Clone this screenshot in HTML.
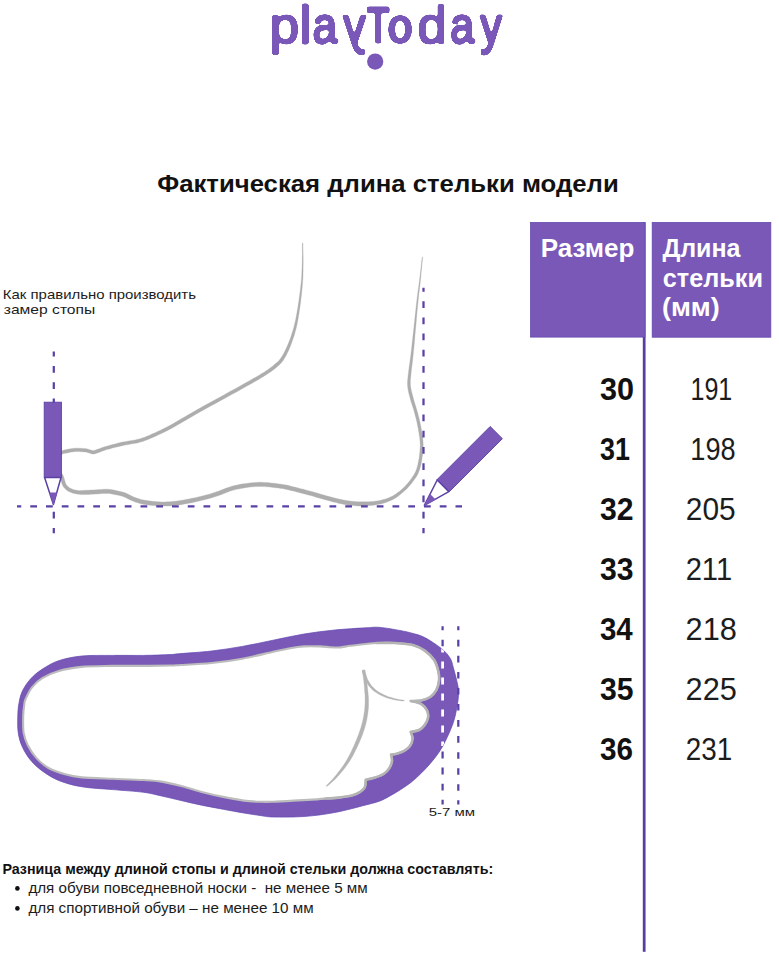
<!DOCTYPE html>
<html lang="ru"><head><meta charset="utf-8"><title>playToday — длина стельки</title>
<style>
html,body{margin:0;padding:0;background:#fff}
body{position:relative;width:779px;height:962px;overflow:hidden;font-family:"Liberation Sans",sans-serif}
svg{display:block}
text{font-family:"Liberation Sans",sans-serif;fill:#111}
.r{fill:#1c1c1c}
.b{font-weight:700}
.r{font-weight:400}
.w{fill:#fff;font-weight:700}
.logo{position:absolute;left:0;top:-1.3px;width:779px;height:76px;white-space:nowrap;font:400 52px/52px "Liberation Sans",sans-serif;color:#7a58b8;filter:url(#goo)}
.logo span{display:inline-block;width:0;transform-origin:0 0}
.dash{stroke:#5a41a6;stroke-width:2.25;fill:none}
</style></head><body>
<svg width="779" height="962" viewBox="0 0 779 962">
<rect width="779" height="962" fill="#fff"/>
<defs><filter id="goo" x="0" y="0" width="100%" height="100%" color-interpolation-filters="sRGB"><feGaussianBlur in="SourceGraphic" stdDeviation="1.3" result="b"/><feColorMatrix in="b" mode="matrix" values="1 0 0 0 0  0 1 0 0 0  0 0 1 0 0  0 0 0 9 -4"/></filter></defs>

<!-- logo dot -->
<circle cx="375.2" cy="61.6" r="8.1" fill="#7a58b8"/>

<!-- title -->
<text class="b" x="157.20" y="192.4" font-size="23" textLength="461.55" lengthAdjust="spacingAndGlyphs">Фактическая длина стельки модели</text>

<!-- foot side view -->
<text class="r" x="2.83" y="298.9" font-size="13.5" textLength="193.11" lengthAdjust="spacingAndGlyphs">Как правильно производить</text>
<text class="r" x="3.76" y="314.4" font-size="13.5" textLength="91.52" lengthAdjust="spacingAndGlyphs">замер стопы</text>
<path d="M302.5 243.0L302.4 244.5L302.4 246.4L302.4 248.7L302.4 251.3L302.4 254.0L302.3 256.8L302.3 259.5L302.2 262.0L302.2 264.3L302.1 266.6L302.0 268.9L301.9 271.2L301.8 273.5L301.7 275.9L301.5 278.4L301.3 280.9L301.0 283.6L300.7 286.5L300.4 289.3L300.0 292.3L299.6 295.3L299.2 298.3L298.8 301.2L298.3 304.2L297.9 307.1L297.4 310.0L296.9 313.0L296.3 316.0L295.8 318.9L295.2 321.7L294.5 324.5L293.9 327.1L293.2 329.6L292.4 332.1L291.6 334.6L290.8 336.9L290.0 339.2L289.1 341.4L288.3 343.4L287.5 345.4L286.8 347.1L286.0 348.8L285.3 350.3L284.6 351.7L283.9 353.1L283.2 354.3L282.5 355.5L281.7 356.7L281.1 357.7L280.5 358.6L279.9 359.3L279.4 360.0L278.8 360.7L278.1 361.4L277.2 362.2L276.2 363.1L275.0 364.1L273.8 365.1L272.5 366.2L271.1 367.3L269.5 368.4L267.8 369.7L265.9 371.0L263.7 372.4L261.3 373.8L258.8 375.4L256.1 377.0L253.2 378.6L250.0 380.4L246.7 382.3L243.1 384.3L239.2 386.5L234.8 388.9L229.9 391.6L224.7 394.5L219.3 397.5L213.8 400.4L208.6 403.3L203.6 406.0L199.2 408.5L195.2 410.8L191.4 413.0L187.8 415.0L184.5 417.0L181.3 418.8L178.4 420.6L175.7 422.1L173.3 423.5L171.1 424.7L169.3 425.7L167.8 426.5L166.5 427.2L165.2 427.8L164.0 428.5L162.6 429.1L161.1 429.9L159.3 430.7L157.5 431.6L155.7 432.4L153.8 433.3L151.9 434.1L150.1 434.9L148.4 435.7L146.8 436.3L145.3 436.9L144.0 437.4L142.9 437.8L141.7 438.2L140.6 438.5L139.4 438.9L138.1 439.2L136.7 439.5L135.2 439.9L133.6 440.2L131.8 440.5L130.1 440.8L128.2 441.1L126.3 441.4L124.4 441.7L122.4 442.1L120.4 442.6L118.2 443.1L116.0 443.7L113.7 444.3L111.5 444.8L109.4 445.4L107.5 445.9L105.8 446.4L104.4 446.8L103.2 447.2L102.2 447.5L101.3 447.9L100.6 448.2L99.9 448.5L99.2 448.7L98.4 449.0L97.6 449.3L96.9 449.6L96.2 449.8L95.5 450.1L94.9 450.3L94.4 450.4L93.9 450.6L93.4 450.6L93.0 450.6L92.6 450.5L92.1 450.4L91.6 450.3L91.1 450.1L90.6 449.9L90.0 449.7L89.5 449.6L89.1 449.5L88.9 449.4L88.7 449.3L88.3 449.2L87.9 449.0L87.4 448.9L86.8 448.8L86.0 448.7L85.0 448.6L83.8 448.5L82.5 448.4L81.1 448.3L79.6 448.2L78.2 448.2L76.7 448.2L75.4 448.2L74.2 448.3L73.0 448.4L71.8 448.6L70.7 448.7L69.6 448.9L68.6 449.1L67.6 449.3L66.7 449.5L65.8 449.7L65.0 449.8L64.3 450.0L63.5 450.2L62.7 450.4L61.9 450.6L61.1 451.0L60.3 451.4L59.5 451.9L58.8 452.5L58.0 453.1L57.2 453.8L56.4 454.6L55.7 455.4L55.0 456.3L54.5 457.2L54.0 458.3L53.6 459.4L53.3 460.5L53.1 461.7L52.9 462.9L52.8 464.0L52.8 465.1L52.8 466.1L52.9 467.1L53.2 468.0L53.5 468.8L53.9 469.6L54.4 470.2L54.8 470.9L55.2 471.4L55.7 472.0L56.2 472.7L56.8 473.3L57.4 473.8L58.0 474.3L58.5 474.7L58.9 475.2L59.3 475.7L59.7 476.3L60.0 477.1L60.3 478.1L60.7 479.3L61.0 480.5L61.4 481.8L61.7 483.0L62.1 484.2L62.6 485.3L63.0 486.1L63.5 486.9L64.0 487.6L64.5 488.1L64.9 488.6L65.4 489.1L65.9 489.5L66.3 489.9L66.9 490.3L67.4 490.7L68.0 491.0L68.5 491.4L69.1 491.6L69.6 491.9L70.2 492.1L70.7 492.4L71.3 492.6L71.9 492.8L72.5 493.0L73.1 493.2L73.7 493.4L74.4 493.5L75.0 493.6L75.7 493.8L76.3 493.9L76.8 494.0L77.4 494.1L78.0 494.2L78.8 494.2L79.6 494.3L80.5 494.6L81.7 494.6L83.1 494.6L84.8 494.5L86.6 494.5L88.6 494.4L90.6 494.3L92.5 494.2L94.4 494.1L96.1 494.0L97.7 493.9L99.3 493.8L100.8 493.7L102.2 493.6L103.5 493.5L104.8 493.4L106.1 493.4L107.3 493.4L108.5 493.5L109.6 493.6L110.7 493.8L111.8 493.9L112.9 494.2L114.0 494.4L115.1 494.6L116.2 494.9L117.2 495.1L118.3 495.3L119.3 495.5L120.3 495.7L121.2 496.0L122.2 496.2L123.1 496.5L124.1 496.9L125.0 497.2L125.9 497.7L126.8 498.2L127.8 498.7L128.8 499.2L129.9 499.8L131.0 500.3L132.2 500.8L133.4 501.3L134.6 501.8L135.8 502.2L137.1 502.6L138.4 503.1L139.8 503.5L141.3 503.8L142.9 504.2L144.6 504.5L146.4 504.7L148.2 505.0L150.1 505.2L152.1 505.4L154.0 505.6L155.8 505.8L157.6 505.9L159.2 506.0L160.9 506.1L162.4 506.1L164.0 506.1L165.5 506.1L167.0 506.0L168.6 506.0L170.1 505.9L171.7 505.8L173.2 505.7L174.7 505.5L176.2 505.3L177.7 505.1L179.2 504.9L180.9 504.7L182.6 504.4L184.5 504.0L186.5 503.7L188.6 503.3L190.7 502.9L192.8 502.5L195.0 502.0L197.1 501.5L199.2 501.0L201.2 500.6L203.2 500.1L205.2 499.6L207.2 499.1L209.2 498.5L211.3 497.9L213.4 497.3L215.6 496.6L218.0 495.8L220.4 494.9L222.8 494.0L225.3 493.0L227.8 492.0L230.3 491.1L232.9 490.3L235.5 489.6L238.2 489.0L241.0 488.5L243.9 488.0L246.9 487.5L249.8 487.1L252.8 486.8L255.7 486.6L258.6 486.5L261.4 486.5L264.3 486.6L267.3 486.8L270.3 487.1L273.2 487.4L275.9 487.8L278.5 488.1L280.7 488.4L282.6 488.6L284.2 488.9L285.5 489.2L286.7 489.4L287.9 489.7L289.1 490.0L290.4 490.4L291.9 490.7L293.6 491.1L295.3 491.6L297.1 492.0L298.9 492.4L300.7 492.9L302.6 493.4L304.5 493.9L306.5 494.4L308.4 495.0L310.5 495.5L312.6 496.1L314.7 496.7L316.8 497.4L318.8 497.9L320.8 498.5L322.6 499.0L324.3 499.5L325.9 499.9L327.3 500.3L328.7 500.7L330.1 501.1L331.5 501.5L333.0 501.9L334.5 502.2L336.0 502.6L337.6 503.0L339.2 503.4L340.8 503.7L342.4 504.1L344.1 504.4L345.8 504.7L347.6 505.0L349.5 505.2L351.4 505.4L353.3 505.6L355.3 505.8L357.3 505.9L359.3 506.0L361.3 506.0L363.3 506.0L365.3 505.9L367.3 505.8L369.3 505.6L371.4 505.4L373.4 505.2L375.3 504.9L377.2 504.6L379.0 504.3L380.8 503.9L382.5 503.5L384.2 503.0L385.8 502.5L387.3 501.9L388.8 501.3L390.3 500.7L391.7 500.1L393.0 499.4L394.3 498.7L395.5 498.0L396.7 497.2L397.8 496.4L398.9 495.6L400.0 494.7L401.1 493.8L402.3 492.8L403.5 491.8L404.7 490.7L406.0 489.5L407.2 488.4L408.4 487.1L409.5 485.8L410.7 484.4L411.8 483.0L412.9 481.6L414.0 480.1L415.1 478.5L416.2 476.9L417.2 475.2L418.1 473.4L418.9 471.6L419.6 469.6L420.2 467.6L420.7 465.5L421.2 463.4L421.6 461.3L421.9 459.2L422.2 457.1L422.5 455.2L422.7 453.3L422.9 451.5L423.0 449.8L423.1 448.1L423.2 446.3L423.2 444.6L423.1 442.8L423.0 440.9L422.8 438.9L422.6 436.9L422.3 434.8L421.9 432.7L421.6 430.6L421.2 428.5L420.8 426.6L420.5 424.7L420.1 423.0L419.8 421.4L419.4 419.9L419.1 418.4L418.7 416.9L418.3 415.4L417.9 413.8L417.4 412.1L416.9 410.2L416.3 408.2L415.7 406.2L415.0 404.1L414.4 402.0L413.8 400.0L413.3 398.1L412.8 396.3L412.4 394.7L412.0 393.2L411.6 391.7L411.3 390.4L411.0 389.1L410.8 387.8L410.6 386.5L410.5 385.1L410.4 383.8L410.4 382.6L410.4 381.4L410.4 380.2L410.5 378.9L410.7 377.5L410.9 375.7L411.0 373.7L411.3 371.6L411.5 369.3L411.8 367.0L412.1 364.4L412.5 361.5L412.8 358.3L413.2 354.7L413.6 350.6L414.1 345.8L414.6 340.2L415.1 334.0L415.7 327.6L416.3 321.1L416.8 314.9L417.3 309.3L417.8 304.4L418.2 300.3L418.6 296.7L418.9 293.6L419.3 290.8L419.6 288.1L419.9 285.5L420.2 282.9L420.5 280.1L420.8 277.0L421.1 273.7L421.4 270.3L421.7 267.0L422.0 263.9L422.3 261.1L422.5 258.8L422.6 257.0L422.2 257.0L422.0 258.7L421.7 261.1L421.4 263.9L421.0 266.9L420.7 270.2L420.3 273.6L419.9 276.9L419.5 279.9L419.2 282.8L418.8 285.4L418.5 288.0L418.1 290.6L417.7 293.5L417.3 296.6L416.9 300.1L416.4 304.2L415.9 309.1L415.2 314.8L414.6 321.0L413.9 327.4L413.2 333.8L412.5 340.0L411.9 345.6L411.4 350.4L410.9 354.4L410.4 358.0L410.0 361.2L409.6 364.0L409.2 366.6L408.9 369.0L408.6 371.3L408.4 373.5L408.1 375.5L407.9 377.2L407.8 378.7L407.6 380.0L407.5 381.3L407.5 382.6L407.5 383.9L407.5 385.3L407.7 386.8L407.8 388.2L408.1 389.6L408.3 391.0L408.6 392.4L409.0 393.9L409.4 395.4L409.8 397.1L410.3 398.9L410.9 400.9L411.5 402.9L412.2 405.0L412.8 407.1L413.5 409.1L414.0 411.1L414.6 412.9L415.0 414.6L415.4 416.2L415.8 417.6L416.2 419.1L416.5 420.5L416.9 422.0L417.2 423.6L417.5 425.3L417.9 427.1L418.3 429.1L418.6 431.1L419.0 433.2L419.3 435.2L419.6 437.3L419.8 439.2L420.0 441.1L420.1 442.9L420.2 444.6L420.2 446.3L420.1 447.9L420.0 449.6L419.9 451.3L419.7 453.0L419.5 454.8L419.3 456.7L419.0 458.7L418.6 460.8L418.2 462.8L417.8 464.8L417.3 466.8L416.7 468.7L416.1 470.4L415.4 472.1L414.5 473.7L413.6 475.3L412.6 476.8L411.6 478.3L410.5 479.8L409.4 481.2L408.3 482.6L407.3 483.8L406.2 485.1L405.0 486.2L403.9 487.4L402.7 488.5L401.6 489.5L400.4 490.5L399.3 491.4L398.1 492.3L397.0 493.1L396.0 493.9L394.9 494.6L393.8 495.3L392.7 495.9L391.6 496.5L390.3 497.1L389.0 497.7L387.6 498.2L386.2 498.7L384.7 499.2L383.2 499.6L381.6 500.0L380.0 500.4L378.4 500.7L376.6 501.0L374.8 501.2L372.9 501.4L371.0 501.6L369.1 501.7L367.1 501.8L365.2 501.8L363.3 501.8L361.4 501.8L359.5 501.8L357.5 501.7L355.6 501.6L353.7 501.4L351.8 501.2L349.9 501.0L348.2 500.8L346.5 500.6L344.9 500.3L343.3 500.0L341.7 499.6L340.1 499.3L338.6 498.9L337.0 498.5L335.5 498.2L334.0 497.8L332.6 497.4L331.2 497.1L329.9 496.7L328.5 496.3L327.0 495.9L325.4 495.4L323.8 495.0L321.9 494.5L320.0 493.9L318.0 493.3L315.9 492.7L313.7 492.1L311.6 491.5L309.5 490.9L307.5 490.4L305.6 489.9L303.7 489.3L301.8 488.9L299.9 488.4L298.1 487.9L296.3 487.5L294.6 487.1L292.9 486.7L291.4 486.3L290.1 486.0L288.9 485.6L287.7 485.3L286.4 485.1L284.9 484.8L283.2 484.5L281.3 484.2L279.0 483.9L276.4 483.6L273.7 483.2L270.7 482.9L267.7 482.6L264.6 482.4L261.5 482.3L258.4 482.3L255.5 482.4L252.4 482.7L249.4 483.0L246.3 483.4L243.3 483.8L240.3 484.3L237.3 484.9L234.5 485.6L231.7 486.3L229.0 487.2L226.4 488.1L223.8 489.1L221.3 490.0L218.9 491.0L216.6 491.8L214.4 492.6L212.2 493.3L210.1 493.9L208.1 494.5L206.1 495.0L204.1 495.5L202.2 496.0L200.2 496.5L198.2 497.0L196.2 497.4L194.1 497.9L191.9 498.3L189.8 498.8L187.8 499.2L185.7 499.6L183.8 499.9L182.0 500.2L180.2 500.5L178.6 500.8L177.1 501.0L175.6 501.2L174.2 501.3L172.8 501.5L171.3 501.6L169.9 501.7L168.4 501.8L166.9 501.8L165.4 501.9L164.0 501.9L162.5 501.9L161.0 501.9L159.4 501.8L157.8 501.7L156.1 501.6L154.3 501.4L152.5 501.3L150.6 501.1L148.8 500.8L147.0 500.6L145.3 500.3L143.7 500.0L142.3 499.7L140.9 499.4L139.6 499.0L138.4 498.6L137.2 498.2L136.1 497.8L134.9 497.4L133.8 497.0L132.7 496.5L131.7 496.0L130.8 495.5L129.8 495.0L128.8 494.4L127.7 493.9L126.7 493.4L125.5 492.9L124.4 492.5L123.4 492.2L122.3 491.9L121.3 491.7L120.2 491.4L119.2 491.2L118.1 491.0L117.0 490.7L116.0 490.5L114.9 490.3L113.7 490.0L112.6 489.8L111.4 489.6L110.1 489.4L108.8 489.3L107.5 489.2L106.1 489.2L104.7 489.2L103.3 489.3L101.9 489.4L100.4 489.5L98.9 489.6L97.4 489.7L95.9 489.8L94.2 489.9L92.3 490.0L90.4 490.1L88.4 490.2L86.5 490.3L84.7 490.3L83.0 490.4L81.7 490.4L80.6 490.4L79.7 490.7L79.0 490.6L78.4 490.6L77.9 490.5L77.5 490.4L76.9 490.3L76.3 490.2L75.7 490.1L75.2 490.0L74.6 489.9L74.1 489.7L73.6 489.6L73.1 489.4L72.6 489.2L72.1 489.0L71.6 488.8L71.1 488.6L70.7 488.4L70.2 488.2L69.8 488.0L69.4 487.7L69.0 487.4L68.7 487.1L68.2 486.8L67.8 486.4L67.5 486.1L67.1 485.7L66.8 485.3L66.5 484.9L66.2 484.4L65.8 483.7L65.5 483.0L65.2 482.0L64.8 480.8L64.5 479.5L64.1 478.3L63.7 477.0L63.3 475.8L62.7 474.7L62.1 473.7L61.5 472.9L60.8 472.3L60.2 471.7L59.6 471.2L59.1 470.8L58.7 470.4L58.3 470.0L58.0 469.4L57.5 468.9L57.2 468.3L56.9 467.9L56.6 467.4L56.4 466.9L56.3 466.4L56.2 465.9L56.2 465.1L56.2 464.3L56.3 463.3L56.4 462.3L56.6 461.3L56.9 460.4L57.2 459.5L57.5 458.8L57.9 458.1L58.4 457.5L58.9 456.9L59.5 456.3L60.1 455.7L60.8 455.2L61.4 454.8L62.1 454.4L62.6 454.0L63.2 453.8L63.7 453.6L64.3 453.5L64.9 453.3L65.7 453.2L66.5 453.0L67.3 452.9L68.3 452.7L69.2 452.5L70.2 452.3L71.3 452.1L72.3 451.9L73.4 451.8L74.5 451.7L75.6 451.6L76.8 451.6L78.1 451.6L79.5 451.6L80.9 451.7L82.3 451.8L83.5 451.9L84.7 452.0L85.6 452.1L86.3 452.2L86.7 452.2L87.0 452.3L87.2 452.4L87.4 452.4L87.7 452.6L88.1 452.7L88.5 452.8L89.0 453.0L89.4 453.1L90.0 453.3L90.6 453.5L91.2 453.7L92.0 453.9L92.8 454.0L93.6 454.0L94.4 453.9L95.2 453.7L95.9 453.5L96.6 453.3L97.4 453.0L98.1 452.7L98.8 452.5L99.6 452.2L100.4 451.9L101.1 451.6L101.8 451.3L102.6 451.0L103.4 450.7L104.3 450.4L105.4 450.0L106.8 449.6L108.4 449.2L110.3 448.7L112.3 448.1L114.5 447.5L116.8 447.0L119.0 446.4L121.2 445.9L123.2 445.5L125.0 445.1L126.9 444.7L128.8 444.4L130.6 444.1L132.4 443.8L134.2 443.5L135.9 443.2L137.5 442.9L139.0 442.5L140.3 442.1L141.6 441.8L142.8 441.4L144.0 441.0L145.2 440.6L146.6 440.1L148.0 439.5L149.7 438.8L151.4 438.1L153.3 437.2L155.2 436.4L157.1 435.5L159.0 434.6L160.8 433.8L162.5 432.9L164.1 432.2L165.5 431.5L166.7 430.9L168.0 430.2L169.4 429.5L170.9 428.7L172.7 427.7L174.9 426.5L177.4 425.1L180.1 423.5L183.1 421.8L186.2 419.9L189.5 418.0L193.1 415.9L196.8 413.7L200.8 411.5L205.3 409.0L210.2 406.3L215.5 403.4L220.9 400.4L226.3 397.5L231.6 394.6L236.5 391.9L240.8 389.5L244.7 387.3L248.3 385.3L251.7 383.4L254.9 381.6L257.8 379.9L260.5 378.3L263.1 376.7L265.5 375.2L267.7 373.8L269.7 372.5L271.5 371.2L273.1 370.0L274.6 368.9L276.0 367.8L277.2 366.7L278.4 365.7L279.5 364.7L280.4 363.8L281.2 363.0L281.9 362.1L282.5 361.3L283.2 360.4L283.8 359.4L284.5 358.3L285.2 357.1L285.9 355.9L286.6 354.5L287.3 353.1L288.1 351.6L288.8 350.0L289.5 348.3L290.3 346.4L291.0 344.5L291.8 342.4L292.6 340.1L293.4 337.8L294.2 335.4L294.9 332.9L295.6 330.3L296.3 327.7L296.9 325.0L297.5 322.2L298.0 319.3L298.5 316.3L299.0 313.4L299.4 310.4L299.9 307.4L300.3 304.4L300.7 301.5L301.0 298.5L301.4 295.5L301.7 292.5L302.0 289.5L302.3 286.6L302.5 283.8L302.7 281.1L302.9 278.5L303.0 276.0L303.0 273.6L303.1 271.2L303.1 268.9L303.1 266.7L303.2 264.4L303.2 262.0L303.2 259.5L303.2 256.8L303.1 254.0L303.1 251.3L303.0 248.7L303.0 246.4L303.0 244.5L302.9 243.0Z" fill="#adadad" stroke="#adadad" stroke-width="0.3" stroke-linejoin="round"/>
<path class="dash" d="M53.8 351.4V533.2" stroke-dasharray="6.75 9.45" stroke-dashoffset="1.6"/>
<path class="dash" d="M423.5 287.7V533.2" stroke-dasharray="6.75 9.45" stroke-dashoffset="2.7"/>
<path class="dash" d="M17 506.4H462" stroke-dasharray="6.75 9" stroke-dashoffset="2.5"/>
<g id="pencil">
<rect x="44.2" y="402.2" width="17.2" height="75.3" fill="#7a58b8" stroke="#5a41a6" stroke-width="0.9"/>
<path d="M44.6 477.5L53.4 504.5L61 477.5Z" fill="#fff" stroke="#5a41a6" stroke-width="1.5" stroke-linejoin="round"/>
<path d="M49.5 492.4H57.2L53.4 505Z" fill="#7a58b8"/>
</g>
<g transform="translate(370.6 0.7) rotate(45 53.4 505)">
<rect x="44.2" y="402.2" width="17.2" height="75.3" fill="#7a58b8" stroke="#5a41a6" stroke-width="0.9"/>
<path d="M44.6 477.5L53.4 504.5L61 477.5Z" fill="#fff" stroke="#5a41a6" stroke-width="1.5" stroke-linejoin="round"/>
<path d="M49.5 492.4H57.2L53.4 505Z" fill="#7a58b8"/>
</g>

<!-- insole -->
<clipPath id="insoleclip"><path d="M17.8 716.0C17.9 711.1 18.2 707.1 19.0 703.0C19.8 698.9 20.4 695.3 22.3 691.3C24.2 687.3 27.1 682.8 30.5 679.0C33.9 675.2 38.1 671.9 42.9 668.8C47.7 665.7 52.8 662.6 59.3 660.5C65.8 658.4 73.0 656.9 81.9 656.0C90.8 655.1 102.4 655.5 112.7 655.4C123.0 655.3 133.9 655.5 143.5 655.4C153.1 655.3 163.8 654.9 170.0 654.6C176.2 654.3 173.9 654.2 180.8 653.6C187.7 653.0 201.3 652.2 211.6 651.0C221.9 649.8 232.1 648.2 242.4 646.4C252.7 644.6 262.9 642.3 273.2 640.2C283.5 638.1 293.7 635.7 304.0 634.0C314.3 632.3 324.5 631.0 334.8 630.0C345.1 629.0 358.2 628.2 365.7 627.8C373.2 627.4 374.3 626.9 380.0 627.4C385.7 627.9 394.7 629.5 400.0 630.5C405.3 631.5 407.9 632.0 412.0 633.2C416.1 634.4 419.8 634.9 424.7 637.5C429.6 640.1 437.4 645.3 441.6 648.7C445.8 652.1 448.0 654.8 450.0 658.0C452.0 661.2 452.1 663.0 453.4 667.8C454.7 672.5 457.2 681.8 458.0 686.5C458.8 691.2 458.6 692.5 458.4 696.0C458.2 699.5 457.8 702.6 456.9 707.3C456.0 712.0 455.2 717.4 452.8 724.0C450.4 730.6 445.9 740.6 442.4 746.8C438.9 753.0 435.5 757.1 432.0 761.4C428.5 765.7 425.1 769.3 421.6 772.8C418.1 776.3 414.7 779.4 411.2 782.2C407.7 785.0 404.3 787.1 400.8 789.4C397.3 791.6 393.9 793.8 390.4 795.7C386.9 797.6 384.1 799.4 380.0 800.9C375.9 802.4 373.2 803.1 365.7 805.0C358.2 806.9 345.1 810.6 334.8 812.5C324.5 814.4 314.3 815.8 304.0 816.5C293.7 817.2 280.5 817.2 273.2 817.0C265.9 816.8 264.9 816.2 260.0 815.5C255.1 814.8 249.9 814.0 243.8 813.0C237.7 812.0 230.0 810.6 223.2 809.3C216.3 808.0 209.5 806.8 202.7 805.4C195.9 804.0 189.0 802.4 182.2 800.8C175.3 799.2 168.0 797.4 161.6 796.0C155.2 794.6 151.7 793.4 143.5 792.3C135.3 791.2 123.0 790.5 112.7 789.6C102.4 788.7 90.8 788.3 81.9 786.8C73.0 785.3 65.8 783.3 59.3 780.7C52.8 778.1 47.7 774.8 42.9 771.4C38.1 768.0 33.9 764.2 30.5 760.1C27.1 756.0 24.4 751.4 22.3 746.8C20.2 742.2 18.9 737.5 18.2 732.4C17.4 727.3 17.7 720.9 17.8 716.0Z"/></clipPath>
<path d="M17.8 716.0C17.9 711.1 18.2 707.1 19.0 703.0C19.8 698.9 20.4 695.3 22.3 691.3C24.2 687.3 27.1 682.8 30.5 679.0C33.9 675.2 38.1 671.9 42.9 668.8C47.7 665.7 52.8 662.6 59.3 660.5C65.8 658.4 73.0 656.9 81.9 656.0C90.8 655.1 102.4 655.5 112.7 655.4C123.0 655.3 133.9 655.5 143.5 655.4C153.1 655.3 163.8 654.9 170.0 654.6C176.2 654.3 173.9 654.2 180.8 653.6C187.7 653.0 201.3 652.2 211.6 651.0C221.9 649.8 232.1 648.2 242.4 646.4C252.7 644.6 262.9 642.3 273.2 640.2C283.5 638.1 293.7 635.7 304.0 634.0C314.3 632.3 324.5 631.0 334.8 630.0C345.1 629.0 358.2 628.2 365.7 627.8C373.2 627.4 374.3 626.9 380.0 627.4C385.7 627.9 394.7 629.5 400.0 630.5C405.3 631.5 407.9 632.0 412.0 633.2C416.1 634.4 419.8 634.9 424.7 637.5C429.6 640.1 437.4 645.3 441.6 648.7C445.8 652.1 448.0 654.8 450.0 658.0C452.0 661.2 452.1 663.0 453.4 667.8C454.7 672.5 457.2 681.8 458.0 686.5C458.8 691.2 458.6 692.5 458.4 696.0C458.2 699.5 457.8 702.6 456.9 707.3C456.0 712.0 455.2 717.4 452.8 724.0C450.4 730.6 445.9 740.6 442.4 746.8C438.9 753.0 435.5 757.1 432.0 761.4C428.5 765.7 425.1 769.3 421.6 772.8C418.1 776.3 414.7 779.4 411.2 782.2C407.7 785.0 404.3 787.1 400.8 789.4C397.3 791.6 393.9 793.8 390.4 795.7C386.9 797.6 384.1 799.4 380.0 800.9C375.9 802.4 373.2 803.1 365.7 805.0C358.2 806.9 345.1 810.6 334.8 812.5C324.5 814.4 314.3 815.8 304.0 816.5C293.7 817.2 280.5 817.2 273.2 817.0C265.9 816.8 264.9 816.2 260.0 815.5C255.1 814.8 249.9 814.0 243.8 813.0C237.7 812.0 230.0 810.6 223.2 809.3C216.3 808.0 209.5 806.8 202.7 805.4C195.9 804.0 189.0 802.4 182.2 800.8C175.3 799.2 168.0 797.4 161.6 796.0C155.2 794.6 151.7 793.4 143.5 792.3C135.3 791.2 123.0 790.5 112.7 789.6C102.4 788.7 90.8 788.3 81.9 786.8C73.0 785.3 65.8 783.3 59.3 780.7C52.8 778.1 47.7 774.8 42.9 771.4C38.1 768.0 33.9 764.2 30.5 760.1C27.1 756.0 24.4 751.4 22.3 746.8C20.2 742.2 18.9 737.5 18.2 732.4C17.4 727.3 17.7 720.9 17.8 716.0Z" fill="#7958b8" stroke="#6246b0" stroke-width="0.7"/>
<path d="M325.6 798.5C323.3 798.7 316.6 799.3 312.0 799.6C307.4 799.9 304.4 800.0 297.9 800.4C291.4 800.8 279.5 801.6 273.2 801.8C266.9 802.0 264.9 802.0 260.0 801.8C255.1 801.6 249.9 801.4 243.8 800.6C237.7 799.8 230.0 798.3 223.2 796.9C216.3 795.5 209.5 794.0 202.7 792.2C195.9 790.4 189.0 788.1 182.2 786.3C175.3 784.5 168.0 782.6 161.6 781.6C155.2 780.6 151.7 780.5 143.5 780.0C135.3 779.5 123.0 779.2 112.7 778.8C102.4 778.4 89.7 778.1 81.8 777.4C73.9 776.6 70.8 775.9 65.2 774.3C59.7 772.7 53.4 770.8 48.5 768.0C43.6 765.2 39.5 761.4 36.0 757.6C32.5 753.8 29.8 749.2 27.7 745.0C25.6 740.8 24.4 737.4 23.6 732.6C22.9 727.8 23.1 720.6 23.2 716.0C23.3 711.4 23.8 707.8 24.2 705.0C24.6 702.2 24.3 701.9 25.6 699.0C26.9 696.1 29.0 691.1 31.8 687.6C34.6 684.1 37.7 681.0 42.2 678.2C46.7 675.4 52.2 672.9 58.8 671.0C65.4 669.1 72.7 667.8 81.7 666.9C90.7 666.0 102.4 666.1 112.7 665.9C123.0 665.7 133.9 666.0 143.5 665.9C153.1 665.8 163.8 665.6 170.0 665.5C176.2 665.4 173.9 665.4 180.8 665.0C187.7 664.6 201.3 664.0 211.6 663.0C221.9 662.0 232.1 660.6 242.4 658.7C252.7 656.8 265.3 653.5 273.2 651.8C281.1 650.0 284.9 649.1 290.0 648.2C295.1 647.3 299.0 646.7 304.0 646.4C309.0 646.1 315.7 646.3 320.0 646.4C324.3 646.5 326.9 647.0 330.0 647.2C333.1 647.4 336.2 647.6 338.7 647.5C341.2 647.4 343.1 646.9 345.0 646.6C346.9 646.3 348.1 646.1 350.2 645.8C352.3 645.5 353.1 645.5 357.4 645.0C361.7 644.5 369.9 643.3 376.1 643.0C382.3 642.7 388.6 642.6 394.8 643.0C401.0 643.4 408.5 643.9 413.5 645.2C418.5 646.5 421.3 648.2 424.7 650.6C428.1 653.0 431.8 656.5 434.1 659.9C436.4 663.3 437.5 667.8 438.3 671.2C439.1 674.6 439.3 677.4 439.0 680.5C438.7 683.6 437.9 687.1 436.4 689.9C434.9 692.6 432.8 695.2 430.2 697.0C427.6 698.8 424.2 699.8 421.0 700.5C417.8 701.2 412.4 700.9 410.7 701.0C412.4 701.5 418.3 702.3 421.0 703.9C423.7 705.5 425.8 708.1 427.0 710.4C428.2 712.7 428.4 715.4 428.0 717.9C427.6 720.4 425.9 723.4 424.4 725.4C422.9 727.4 421.4 728.9 419.1 730.0C416.8 731.1 412.1 731.6 410.7 731.9C411.0 733.0 412.7 736.1 412.6 738.5C412.5 740.9 411.4 743.9 410.0 746.0C408.6 748.1 406.4 749.6 404.2 750.9C402.0 752.2 398.9 753.1 396.7 753.7C394.5 754.3 392.0 754.5 391.1 754.6C391.2 755.7 392.3 758.7 392.0 761.0C391.7 763.3 390.6 766.2 389.2 768.4C387.8 770.6 386.1 772.4 383.6 774.0C381.1 775.6 377.2 776.8 374.2 777.8C371.2 778.8 367.2 779.5 365.8 779.8C365.6 781.0 365.8 785.1 364.9 787.1C364.0 789.1 362.4 790.4 360.2 791.8C358.0 793.2 355.4 794.5 351.8 795.5C348.2 796.5 343.1 797.1 338.7 797.6C334.3 798.1 327.8 798.4 325.6 798.5Z" fill="#fff" stroke="#bcbcbc" stroke-width="2.1" stroke-linejoin="round"/>
<path d="M376.1 643.0C379.2 643.0 388.6 642.6 394.8 643.0C401.0 643.4 408.5 643.9 413.5 645.2C418.5 646.5 421.3 648.2 424.7 650.6C428.1 653.0 431.8 656.5 434.1 659.9C436.4 663.3 437.5 667.8 438.3 671.2C439.1 674.6 439.3 677.4 439.0 680.5C438.7 683.6 437.9 687.1 436.4 689.9C434.9 692.6 432.8 695.2 430.2 697.0C427.6 698.8 424.2 699.8 421.0 700.5C417.8 701.2 412.4 700.9 410.7 701.0C412.4 701.5 418.3 702.3 421.0 703.9C423.7 705.5 425.8 708.1 427.0 710.4C428.2 712.7 428.4 715.4 428.0 717.9C427.6 720.4 425.9 723.4 424.4 725.4C422.9 727.4 421.4 728.9 419.1 730.0C416.8 731.1 412.1 731.6 410.7 731.9C411.0 733.0 412.7 736.1 412.6 738.5C412.5 740.9 411.4 743.9 410.0 746.0C408.6 748.1 406.4 749.6 404.2 750.9C402.0 752.2 398.9 753.1 396.7 753.7C394.5 754.3 392.0 754.5 391.1 754.6C391.2 755.7 392.3 758.7 392.0 761.0C391.7 763.3 390.6 766.2 389.2 768.4C387.8 770.6 386.1 772.4 383.6 774.0C381.1 775.6 377.2 776.8 374.2 777.8C371.2 778.8 367.2 779.5 365.8 779.8C365.6 781.0 365.8 785.1 364.9 787.1C364.0 789.1 362.4 790.4 360.2 791.8C358.0 793.2 355.4 794.5 351.8 795.5C348.2 796.5 343.1 797.1 338.7 797.6C334.3 798.1 327.8 798.4 325.6 798.5" fill="none" stroke="#b4b4b4" stroke-width="2.6" stroke-linejoin="round" stroke-linecap="round"/>
<path d="M362.4 670.4L362.5 671.6L362.7 673.2L363.0 675.1L363.3 677.2L363.6 679.4L363.8 681.8L364.1 684.0L364.3 686.3L364.5 688.5L364.6 690.7L364.8 693.0L365.0 695.4L365.1 697.7L365.1 700.1L365.1 702.4L365.0 704.7L364.8 707.0L364.6 709.3L364.4 711.6L364.0 713.9L363.6 716.2L363.2 718.5L362.7 720.7L362.2 723.0L361.5 725.3L360.9 727.6L360.1 729.9L359.3 732.2L358.5 734.5L357.6 736.8L356.7 739.2L355.7 741.5L354.7 743.8L353.7 746.2L352.6 748.6L351.5 751.0L350.3 753.4L349.1 755.7L347.9 757.9L346.7 760.1L345.4 762.2L344.1 764.2L342.8 766.2L341.4 768.1L340.0 770.0L338.6 771.8L337.3 773.5L336.0 775.2L334.6 776.8L333.2 778.4L331.8 779.9L330.4 781.4L329.1 782.8L327.9 784.0L326.9 785.0L326.2 785.9L326.8 786.5L327.7 785.8L328.8 784.9L330.1 783.8L331.5 782.6L333.0 781.2L334.6 779.7L336.2 778.2L337.6 776.6L339.1 775.0L340.5 773.3L342.0 771.6L343.5 769.7L345.0 767.8L346.5 765.8L347.9 763.8L349.3 761.7L350.7 759.5L352.0 757.3L353.3 754.9L354.5 752.5L355.7 750.1L356.9 747.7L358.0 745.3L359.1 742.9L360.1 740.6L361.1 738.2L362.0 735.9L362.9 733.5L363.7 731.1L364.5 728.7L365.2 726.4L365.8 724.0L366.4 721.6L366.9 719.2L367.3 716.8L367.7 714.4L368.0 712.0L368.3 709.7L368.5 707.3L368.6 704.9L368.6 702.5L368.6 700.0L368.5 697.6L368.3 695.2L368.1 692.8L367.8 690.4L367.6 688.2L367.3 685.9L367.0 683.7L366.6 681.4L366.2 679.0L365.8 676.8L365.4 674.7L365.0 672.8L364.7 671.2L364.4 670.0Z" fill="#b4b4b4" stroke="#b4b4b4" stroke-width="0.3" stroke-linejoin="round"/>
<path d="M362.0 670.6L362.2 671.4L362.5 672.4L362.9 673.7L363.3 675.1L363.8 676.7L364.3 678.2L365.0 679.7L365.7 681.1L366.4 682.4L367.2 683.6L368.1 684.9L369.1 686.2L370.1 687.4L371.2 688.5L372.3 689.7L373.5 690.7L374.8 691.7L376.2 692.6L377.6 693.5L379.2 694.4L380.7 695.2L382.2 695.9L383.7 696.6L385.2 697.2L386.6 697.7L388.1 698.2L389.7 698.7L391.2 699.0L392.6 699.4L394.0 699.7L395.3 700.0L396.6 700.2L397.8 700.4L398.9 700.6L400.0 700.7L401.1 700.9L402.0 700.9L402.9 701.0L403.6 701.1L404.1 701.1L404.3 700.3L403.7 700.2L403.0 700.1L402.2 700.0L401.2 699.8L400.2 699.7L399.1 699.5L398.0 699.3L396.8 699.0L395.6 698.7L394.3 698.4L392.9 698.0L391.5 697.6L390.1 697.2L388.6 696.7L387.2 696.2L385.8 695.6L384.4 695.0L383.0 694.3L381.5 693.5L380.1 692.7L378.7 691.9L377.3 691.0L376.0 690.0L374.9 689.1L373.8 688.1L372.8 687.0L371.8 685.9L370.9 684.7L370.1 683.5L369.3 682.3L368.6 681.1L367.9 679.9L367.4 678.7L366.8 677.3L366.4 675.8L366.0 674.4L365.6 673.0L365.3 671.7L365.1 670.6L364.8 669.8Z" fill="#b4b4b4" stroke="#b4b4b4" stroke-width="0.3" stroke-linejoin="round"/>
<path class="dash" d="M442.6 626.2V646.2" stroke-width="2.5" stroke-dasharray="6.6 9.45" stroke-dashoffset="2.45"/>
<path class="dash" d="M442.6 751.5V804.6" stroke-width="2.5" stroke-dasharray="6.9 9.2"/>
<path d="M442.6 645.5V746" stroke="#fff" stroke-width="2.8" stroke-dasharray="7 9" fill="none" clip-path="url(#insoleclip)"/>
<path class="dash" d="M458.3 626.2V804.6" stroke-width="2.5" stroke-dasharray="6.6 9.45" stroke-dashoffset="2.45"/>
<text class="r" x="428.73" y="816.4" font-size="11.7" textLength="46.29" lengthAdjust="spacingAndGlyphs">5-7 мм</text>

<!-- table -->
<rect x="642.8" y="222.3" width="2.75" height="729.5" fill="#553da2"/>
<rect x="530.6" y="222.5" width="114.4" height="114.6" fill="#7a58b8" stroke="#6249ae" stroke-width="0.8"/>
<rect x="652.2" y="222.5" width="118.6" height="114.7" fill="#7a58b8" stroke="#6249ae" stroke-width="0.8"/>
<text class="w" x="540.67" y="257.0" font-size="25" textLength="93.68" lengthAdjust="spacingAndGlyphs">Размер</text>
<text class="w" x="662.40" y="256.9" font-size="25" textLength="78.14" lengthAdjust="spacingAndGlyphs">Длина</text>
<text class="w" x="662.81" y="286.7" font-size="25" textLength="100.20" lengthAdjust="spacingAndGlyphs">стельки</text>
<text class="w" x="661.94" y="315.6" font-size="25" textLength="57.73" lengthAdjust="spacingAndGlyphs">(мм)</text>
<text class="b" x="599.92" y="400.2" font-size="30.6" textLength="34.02" lengthAdjust="spacingAndGlyphs">30</text><text class="r" x="690.43" y="400.2" font-size="30.6" textLength="41.89" lengthAdjust="spacingAndGlyphs">191</text>
<text class="b" x="599.98" y="460.2" font-size="30.6" textLength="29.89" lengthAdjust="spacingAndGlyphs">31</text><text class="r" x="690.30" y="460.2" font-size="30.6" textLength="45.30" lengthAdjust="spacingAndGlyphs">198</text>
<text class="b" x="599.93" y="520.2" font-size="30.6" textLength="33.52" lengthAdjust="spacingAndGlyphs">32</text><text class="r" x="685.80" y="520.2" font-size="30.6" textLength="49.91" lengthAdjust="spacingAndGlyphs">205</text>
<text class="b" x="599.93" y="580.2" font-size="30.6" textLength="33.52" lengthAdjust="spacingAndGlyphs">33</text><text class="r" x="685.63" y="580.2" font-size="30.6" textLength="46.55" lengthAdjust="spacingAndGlyphs">211</text>
<text class="b" x="599.94" y="640.2" font-size="30.6" textLength="32.77" lengthAdjust="spacingAndGlyphs">34</text><text class="r" x="685.56" y="640.2" font-size="30.6" textLength="51.29" lengthAdjust="spacingAndGlyphs">218</text>
<text class="b" x="599.93" y="700.2" font-size="30.6" textLength="33.52" lengthAdjust="spacingAndGlyphs">35</text><text class="r" x="685.56" y="700.2" font-size="30.6" textLength="51.29" lengthAdjust="spacingAndGlyphs">225</text>
<text class="b" x="599.94" y="760.2" font-size="30.6" textLength="33.00" lengthAdjust="spacingAndGlyphs">36</text><text class="r" x="685.70" y="760.2" font-size="30.6" textLength="46.43" lengthAdjust="spacingAndGlyphs">231</text>

<!-- footer -->
<text class="b" x="2.41" y="873.8" font-size="14" textLength="490.78" lengthAdjust="spacingAndGlyphs">Разница между длиной стопы и длиной стельки должна составлять:</text>
<circle cx="17.4" cy="888.4" r="2.3" fill="#111"/>
<text class="r" x="28.40" y="893.1" font-size="14" textLength="339.35" lengthAdjust="spacingAndGlyphs" style="white-space:pre">для обуви повседневной носки -  не менее 5 мм</text>
<circle cx="17.4" cy="908.4" r="2.3" fill="#111"/>
<text class="r" x="28.40" y="912.9" font-size="14" textLength="285.25" lengthAdjust="spacingAndGlyphs">для спортивной обуви – не менее 10 мм</text>
</svg>
<div class="logo"><span style="font-weight:400;-webkit-text-stroke:2.0px #7a58b8;transform:translateX(269.4px) scaleX(1.025)">p</span><span style="font-weight:400;-webkit-text-stroke:2.8px #7a58b8;transform:translateX(300.0px) scaleX(0.920)">l</span><span style="font-weight:400;-webkit-text-stroke:2.4px #7a58b8;transform:translateX(312.6px) scaleX(0.860)">a</span><span style="font-weight:400;-webkit-text-stroke:2.7px #7a58b8;transform:translateX(365.4px) scaleX(-0.848)">y</span><span style="font-weight:700;-webkit-text-stroke:1.0px #7a58b8;transform:translateX(366.8px) scaleX(0.718)">T</span><span style="font-weight:700;-webkit-text-stroke:0.7px #7a58b8;transform:translateX(387.1px) scaleX(0.824)">o</span><span style="font-weight:400;-webkit-text-stroke:2.0px #7a58b8;transform:translateX(417.6px) scaleX(1.013)">d</span><span style="font-weight:400;-webkit-text-stroke:2.5px #7a58b8;transform:translateX(450.3px) scaleX(0.834)">a</span><span style="font-weight:400;-webkit-text-stroke:2.9px #7a58b8;transform:translateX(480.4px) scaleX(0.813)">y</span></div>
</body></html>
